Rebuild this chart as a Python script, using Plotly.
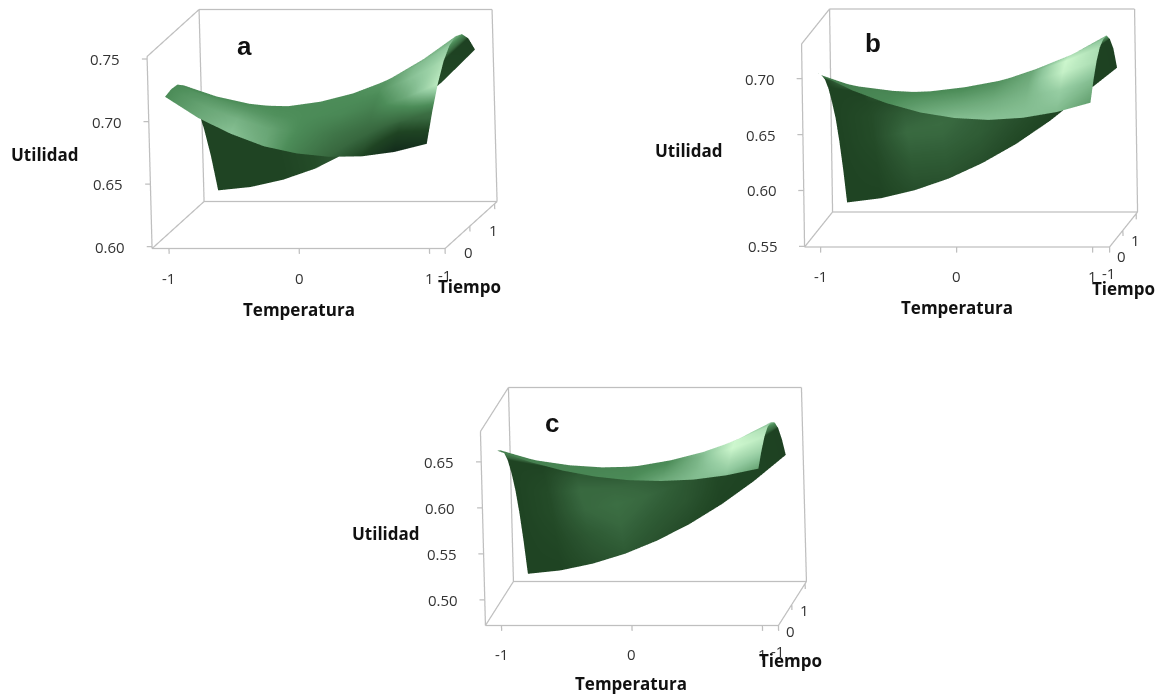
import math
import numpy as np
import plotly.graph_objects as go

FIG_W, FIG_H = 1164, 697

temperatura = [-1, -0.75, -0.5, -0.25, 0, 0.25, 0.5, 0.75, 1]
tiempo = [-1, -0.75, -0.5, -0.25, 0, 0.25, 0.5, 0.75, 1]

# one row per temperatura, one column per tiempo
utilidad_a = [
    [.7198, .7214, .7206, .7155, .7050, .6891, .6678, .6412, .6092],
    [.7029, .7078, .7094, .7066, .6984, .6848, .6658, .6416, .6119],
    [.6901, .6974, .7012, .7008, .6949, .6836, .6670, .6450, .6177],
    [.6802, .6898, .6960, .6979, .6944, .6855, .6712, .6516, .6266],
    [.6745, .6864, .6950, .6992, .6980, .6914, .6794, .6622, .6395],
    [.6718, .6861, .6969, .7035, .7046, .7003, .6907, .6757, .6554],
    [.6722, .6888, .7020, .7109, .7144, .7125, .7052, .6926, .6746],
    [.6757, .6946, .7101, .7214, .7272, .7276, .7227, .7124, .6967],
    [.6822, .7034, .7213, .7348, .7430, .7458, .7431, .7352, .7218],
]
utilidad_b = [
    [.7045, .6993, .6918, .6800, .6640, .6458, .6212, .5925, .5595],
    [.6895, .6889, .6855, .6770, .6637, .6474, .6243, .5963, .5633],
    [.6781, .6816, .6816, .6763, .6655, .6513, .6298, .6028, .5705],
    [.6697, .6767, .6800, .6775, .6693, .6573, .6376, .6121, .5809],
    [.6648, .6749, .6809, .6811, .6753, .6655, .6479, .6243, .5948],
    [.6631, .6756, .6841, .6867, .6833, .6759, .6605, .6392, .6119],
    [.6650, .6794, .6900, .6947, .6935, .6885, .6756, .6570, .6324],
    [.6701, .6859, .6981, .7046, .7057, .7032, .6931, .6775, .6563],
    [.6785, .6950, .7084, .7168, .7200, .7200, .7130, .7008, .6800],
]
utilidad_c = [
    [.6622, .6568, .6484, .6349, .6155, .5911, .5606, .5242, .4828],
    [.6499, .6465, .6401, .6286, .6112, .5888, .5603, .5259, .4865],
    [.6405, .6392, .6349, .6255, .6102, .5899, .5635, .5312, .4939],
    [.6339, .6348, .6326, .6255, .6123, .5941, .5700, .5398, .5047],
    [.6301, .6332, .6334, .6285, .6176, .6017, .5798, .5520, .5191],
    [.6292, .6347, .6372, .6346, .6261, .6126, .5930, .5675, .5370],
    [.6307, .6387, .6437, .6436, .6376, .6266, .6095, .5865, .5585],
    [.6353, .6458, .6534, .6559, .6524, .6439, .6294, .6090, .5835],
    [.6426, .6558, .6660, .6711, .6703, .6645, .6526, .6348, .6120],
]

# shading, same layout as the values
sombra_a = [
    [.50, .50, .50, .46, .20, .20, .20, .20, .20],
    [.62, .60, .55, .50, .20, .20, .20, .20, .20],
    [.72, .66, .55, .50, .50, .20, .20, .20, .20],
    [.62, .60, .52, .50, .50, .20, .21, .22, .22],
    [.44, .48, .50, .50, .50, .50, .22, .25, .27],
    [.30, .38, .48, .50, .50, .50, .25, .27, .30],
    [.20, .32, .44, .52, .55, .55, .55, .25, .28],
    [.04, .28, .62, .72, .70, .65, .60, .20, .22],
    [.10, .35, .92, .85, .75, .65, .55, .18, .18],
]
sombra_b = [
    [.42, .42, .20, .20, .20, .20, .20, .20, .20],
    [.44, .44, .44, .20, .21, .22, .22, .21, .20],
    [.50, .48, .46, .46, .23, .27, .31, .27, .23],
    [.62, .55, .50, .48, .24, .28, .32, .28, .24],
    [.70, .60, .52, .50, .50, .25, .28, .27, .23],
    [.72, .64, .56, .52, .50, .23, .25, .24, .21],
    [.72, .68, .64, .62, .60, .21, .22, .22, .20],
    [.70, .78, .95, .98, .85, .65, .20, .20, .20],
    [.58, .70, .85, .85, .75, .65, .18, .18, .18],
]
sombra_c = [
    [.44, .44, .44, .20, .20, .20, .20, .20, .20],
    [.44, .44, .44, .20, .21, .22, .22, .21, .20],
    [.46, .46, .46, .23, .27, .31, .30, .26, .23],
    [.48, .47, .46, .46, .26, .30, .34, .30, .26],
    [.50, .48, .47, .47, .25, .28, .30, .27, .24],
    [.62, .55, .50, .50, .50, .24, .26, .25, .22],
    [.70, .68, .68, .72, .72, .21, .22, .21, .20],
    [.72, .85, .98, .98, .85, .20, .20, .20, .20],
    [.60, .80, .92, .85, .70, .60, .18, .18, .18],
]

ticks_x = [-1, 0, 1]
ticks_y = [-1, 0, 1]
ticks_z_a = [0.60, 0.65, 0.70, 0.75]
ticks_z_b = [0.55, 0.60, 0.65, 0.70]
ticks_z_c = [0.50, 0.55, 0.60, 0.65]

panels = [
    dict(name="scene", z=utilidad_a, c=sombra_a, zt=ticks_z_a, xr=[-1.13, 1.12], yr=[-1.0, 1.1], zr=[0.5985, 0.752],
         W=293, Sx=52, Sy=47, T=5, H=192, cx=322, cy=130, dom=(80, 560, 0, 320)),
    dict(name="scene2", z=utilidad_b, c=sombra_b, zt=ticks_z_b, xr=[-1.118, 1.125], yr=[-1.0, 1.1], zr=[0.5495, 0.731],
         W=305, Sx=28, Sy=35, T=3, H=203, cx=969, cy=129, dom=(740, 1164, 0, 320)),
    dict(name="scene3", z=utilidad_c, c=sombra_c, zt=ticks_z_c, xr=[-1.123, 1.123], yr=[-1.0, 1.1], zr=[0.4722, 0.683],
         W=293, Sx=28, Sy=44, T=5, H=194, cx=643.5, cy=507.5, dom=(440, 850, 380, 697)),
]

GREEN = [[0, "#10261a"], [0.2, "#1f4423"], [0.3, "#38683f"], [0.5, "#4c8c58"], [0.75, "#90c89d"], [1, "#d2fbd2"]]
BOX = "#bfbfbf"
TICKFONT = dict(family="Open Sans", size=15, color="#333333")
PAD = 0.06  # the axes reach a little past the drawn box, so edges and ticks are not clipped


def padded(r):
    span = r[1] - r[0]
    return [r[0] - PAD * span, r[1] + PAD * span]


def box_edges(xr, yr, zr, xticks, yticks, zticks):
    x0, x1 = xr
    y0, y1 = yr
    z0, z1 = zr
    segs = [
        ((x0, y0, z0), (x1, y0, z0)),
        ((x0, y0, z0), (x0, y1, z0)),
        ((x1, y0, z0), (x1, y1, z0)),
        ((x0, y1, z0), (x1, y1, z0)),
        ((x0, y1, z0), (x0, y1, z1)),
        ((x1, y1, z0), (x1, y1, z1)),
        ((x0, y1, z1), (x1, y1, z1)),
        ((x0, y0, z0), (x0, y0, z1)),
        ((x0, y0, z1), (x0, y1, z1)),
    ]
    dz = (z1 - z0) * 0.028
    dx = (x1 - x0) * 0.018
    for t in xticks:
        segs.append(((t, y0, z0), (t, y0, z0 - dz)))
    for t in yticks:
        segs.append(((x1, t, z0), (x1, t, z0 - dz)))
    for t in zticks:
        segs.append(((x0, y0, t), (x0 - dx, y0, t)))
    xs, ys, zs = [], [], []
    for a, b in segs:
        xs += [a[0], b[0], None]
        ys += [a[1], b[1], None]
        zs += [a[2], b[2], None]
    return xs, ys, zs


fig = go.Figure()
layout = {}
for p in panels:
    z = np.array(p["z"]).T
    fig.add_trace(go.Surface(
        x=temperatura, y=tiempo, z=z, scene=p["name"], showscale=False,
        surfacecolor=np.array(p["c"]).T, colorscale=GREEN, cmin=0, cmax=1,
        lighting=dict(ambient=1.0, diffuse=0.0, specular=0.0, roughness=0.5, fresnel=0.0),
        hoverinfo="skip",
    ))
    xs, ys, zs = box_edges(p["xr"], p["yr"], p["zr"], ticks_x, ticks_y, p["zt"])
    fig.add_trace(go.Scatter3d(x=xs, y=ys, z=zs, mode="lines", scene=p["name"],
                               line=dict(color=BOX, width=2.5), hoverinfo="skip", showlegend=False))

    W, Sx, Sy, T, H = p["W"], p["Sx"], p["Sy"], p["T"], p["H"]
    az = math.sqrt(T * H / (Sx * Sy))
    s = math.sqrt(Sy ** 2 + (H / az) ** 2)
    ax = W / math.sqrt(s ** 2 - Sx ** 2 - (T / az) ** 2)
    u = np.array([W / ax, Sx, -T / az]) / s
    v = np.array([0, Sy, H / az]) / s
    n = np.cross(u, v)
    x0, x1, y0, y1 = p["dom"]
    Hp = y1 - y0
    f = 2 * s / Hp * (1 + 2 * PAD)
    CP = Hp * 0.484
    dx = p["cx"] - (x0 + x1) / 2
    dy = (y0 + y1) / 2 - p["cy"]
    center = -(dx / CP) * u - (dy / CP) * v
    eye = center + 2.0 * n
    axis_common = dict(title=dict(text=""), showgrid=False, zeroline=False, showbackground=False, showline=False,
                       ticks="", showticklabels=False, showspikes=False)
    labels = []
    for t in ticks_x:
        labels.append(dict(x=t, y=p["yr"][0], z=p["zr"][0], text=str(t), showarrow=False,
                           xanchor="center", yanchor="middle", yshift=-29, font=TICKFONT))
    for t in ticks_y:
        labels.append(dict(x=p["xr"][1], y=t, z=p["zr"][0], text=str(t), showarrow=False,
                           xanchor="center", yanchor="middle", xshift=-1, yshift=-26, font=TICKFONT))
    for t in p["zt"]:
        labels.append(dict(x=p["xr"][0], y=p["yr"][0], z=t, text=f"{t:.2f}", showarrow=False,
                           xanchor="right", yanchor="middle", xshift=-25, font=TICKFONT))
    layout[p["name"]] = dict(
        domain=dict(x=[x0 / FIG_W, x1 / FIG_W], y=[1 - y1 / FIG_H, 1 - y0 / FIG_H]),
        aspectmode="manual",
        dragmode="orbit",
        aspectratio=dict(x=ax * f, y=f, z=az * f),
        camera=dict(projection=dict(type="orthographic"),
                    eye=dict(x=eye[0], y=eye[1], z=eye[2]),
                    center=dict(x=center[0], y=center[1], z=center[2]),
                    up=dict(x=v[0], y=v[1], z=v[2])),
        xaxis=dict(range=padded(p["xr"]), **axis_common),
        yaxis=dict(range=padded(p["yr"]), **axis_common),
        zaxis=dict(range=padded(p["zr"]), **axis_common),
        annotations=labels,
    )

titles = [
    ("Utilidad", 44.5, 154), ("Temperatura", 298.5, 309), ("Tiempo", 469, 286), ("a", 244, 46),
    ("Utilidad", 689, 150), ("Temperatura", 957, 307), ("Tiempo", 1123, 289), ("b", 873, 43),
    ("Utilidad", 385.5, 533), ("Temperatura", 631, 683), ("Tiempo", 790, 660), ("c", 552, 423),
]
annotations = []
for text, x, y in titles:
    is_letter = len(text) == 1
    annotations.append(dict(
        text=f"<b>{text}</b>", x=x / FIG_W, y=1 - y / FIG_H, xref="paper", yref="paper",
        showarrow=False, xanchor="center", yanchor="middle",
        font=dict(family="Liberation Sans" if is_letter else "Open Sans",
                  size=26 if is_letter else 17, color="#111111"),
    ))

fig.update_layout(width=FIG_W, height=FIG_H, margin=dict(l=0, r=0, t=0, b=0), paper_bgcolor="white",
                  showlegend=False, annotations=annotations, **layout)
fig.write_html("out.html", config=dict(displayModeBar=False),
               post_script="document.body.style.margin='0';document.documentElement.style.overflow='hidden';")
